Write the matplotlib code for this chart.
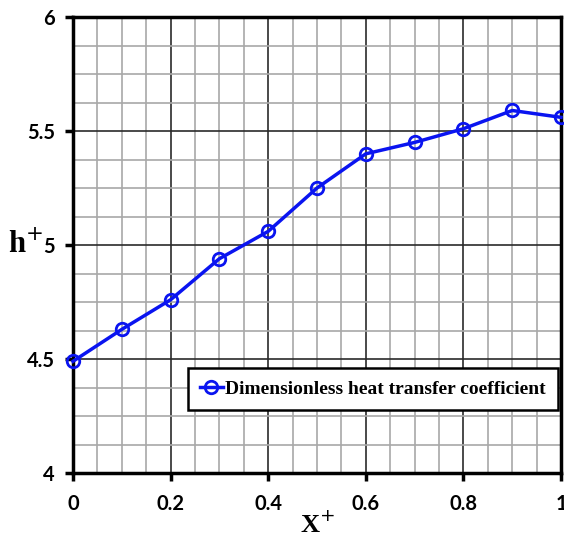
import matplotlib.pyplot as plt
from matplotlib.ticker import MultipleLocator

x_plus = [0, 0.1, 0.2, 0.3, 0.4, 0.5, 0.6, 0.7, 0.8, 0.9, 1.0]
h_plus = [4.49, 4.63, 4.76, 4.94, 5.06, 5.25, 5.40, 5.45, 5.51, 5.59, 5.56]
x_ticks = [0, 0.2, 0.4, 0.6, 0.8, 1]
x_tick_labels = ["0", "0.2", "0.4", "0.6", "0.8", "1"]
y_ticks = [4, 4.5, 5, 5.5, 6]
y_tick_labels = ["4", "4.5", "5", "5.5", "6"]
series_label = "Dimensionless heat transfer coefficient"

plt.rcParams['mathtext.fontset'] = 'custom'
plt.rcParams['mathtext.rm'] = 'DejaVu Sans'

fig = plt.figure(figsize=(5.64, 5.40), dpi=100)
fig.patch.set_facecolor('white')
ax = fig.add_axes([0.1294, 0.124, 0.8653, 0.8445])

ax.plot(x_plus, h_plus, color='#0a14f0', linewidth=2.5, marker='o',
        markersize=9, markerfacecolor='none', markeredgewidth=2,
        markeredgecolor='#0a14f0', label=series_label, clip_on=False, zorder=5)

ax.set_xlim(0, 1)
ax.set_ylim(4, 6)
ax.set_xticks(x_ticks)
ax.set_xticklabels(x_tick_labels)
ax.set_yticks(y_ticks)
ax.set_yticklabels(y_tick_labels)
ax.xaxis.set_minor_locator(MultipleLocator(0.05))
ax.yaxis.set_minor_locator(MultipleLocator(0.125))

ax.grid(True, which='major', color='#2a2a2a', linewidth=1.2, zorder=0)
ax.grid(True, which='minor', color='#a8a8a8', linewidth=1.2, zorder=0)
ax.set_axisbelow(True)

for s in ax.spines.values():
    s.set_linewidth(2.5)
    s.set_color('black')

ax.tick_params(axis='both', which='major', direction='out', length=6, width=2.5,
               labelsize=14.5)
ax.tick_params(axis='x', which='major', pad=9)
ax.tick_params(axis='y', which='major', pad=7)
ax.tick_params(axis='both', which='minor', length=0)
for lbl in ax.get_xticklabels() + ax.get_yticklabels():
    lbl.set_fontfamily('Lato')
    lbl.set_fontweight('bold')

ax.set_xlabel("X$^{\\mathrm{+}}$", fontsize=19, fontweight='bold', family='Liberation Serif')
ax.set_ylabel("h$^{\\mathrm{+}}$", fontsize=22, fontweight='bold', family='Liberation Serif',
              rotation=0, va='center', ha='center')
ax.xaxis.set_label_coords(0.5, -0.085)
ax.yaxis.set_label_coords(-0.097, 0.5)

leg = ax.legend(loc='lower right', bbox_to_anchor=(0.994, 0.138), borderaxespad=0,
                frameon=True, fancybox=False, borderpad=0.62, handlelength=1.2,
                handletextpad=0.12,
                prop={'family': 'Liberation Serif', 'weight': 'bold', 'size': 14})
leg.get_frame().set_edgecolor('black')
leg.get_frame().set_linewidth(1.8)
leg.get_frame().set_alpha(1)

plt.savefig("out.png", dpi=100)
plt.close()
